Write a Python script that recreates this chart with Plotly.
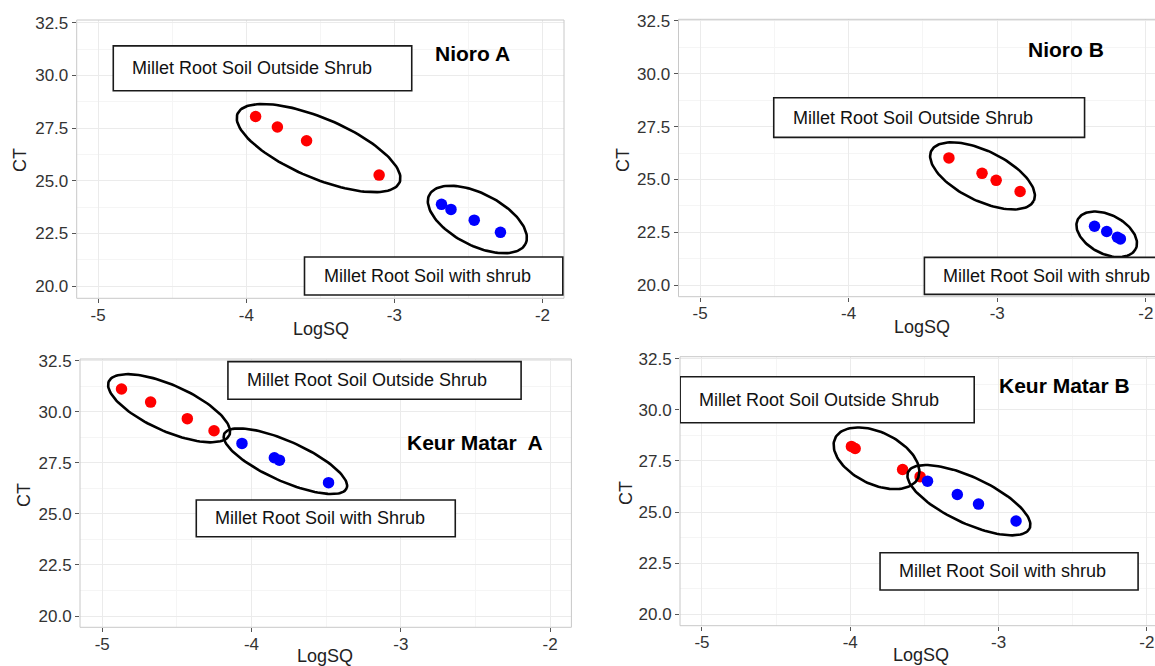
import numpy as np
import plotly.graph_objects as go

W, H = 1155, 666

# ---------------- data ----------------
panel_titles = ["Nioro A", "Nioro B", "Keur Matar\u00a0 A", "Keur Matar B"]

outside_x = [
    [-3.937, -3.790, -3.593, -3.103],
    [-3.325, -3.102, -3.007, -2.846],
    [-4.871, -4.676, -4.430, -4.251],
    [-3.992, -3.967, -3.647, -3.529],
]
outside_ct = [
    [28.05, 27.55, 26.90, 25.27],
    [26.02, 25.29, 24.96, 24.43],
    [31.11, 30.47, 29.66, 29.07],
    [28.21, 28.11, 27.08, 26.73],
]
with_x = [
    [-2.682, -2.618, -2.461, -2.284],
    [-2.345, -2.263, -2.191, -2.171],
    [-4.064, -3.847, -3.813, -3.484],
    [-3.479, -3.278, -3.135, -2.882],
]
with_ct = [
    [23.88, 23.64, 23.13, 22.55],
    [22.79, 22.54, 22.27, 22.19],
    [28.45, 27.75, 27.63, 26.53],
    [26.51, 25.86, 25.39, 24.56],
]

x_ticks = [-5, -4, -3, -2]
x_tick_labels = ["-5", "-4", "-3", "-2"]
y_ticks = [20.0, 22.5, 25.0, 27.5, 30.0, 32.5]
y_tick_labels = ["20.0", "22.5", "25.0", "27.5", "30.0", "32.5"]

outside_label = "Millet Root Soil Outside Shrub"
with_labels = ["Millet Root Soil with shrub", "Millet Root Soil with shrub",
               "Millet Root Soil with Shrub", "Millet Root Soil with shrub"]

# ---------------- layout geometry (pixels) ----------------
panels = [
    dict(px=(76.7, 564.0), py=(20.0, 298.3), xr=(-5.145, -1.855), yr=(19.42, 32.63),
         ct=(20, 160), lq=(321, 329)),
    dict(px=(678.5, 1155.0), py=(19.3, 296.7), xr=(-5.145, -1.938), yr=(19.46, 32.57),
         ct=(623, 160), lq=(922, 327)),
    dict(px=(80.0, 571.4), py=(359.0, 627.3), xr=(-5.149, -1.857), yr=(19.45, 32.58),
         ct=(24, 495), lq=(325, 656)),
    dict(px=(680.0, 1155.0), py=(356.7, 625.7), xr=(-5.148, -1.945), yr=(19.44, 32.60),
         ct=(626, 493), lq=(921, 655)),
]

# text boxes: (x0, x1, y_bottom, y_top) in data units
outside_boxes = [(-4.898, -2.883, 29.27, 31.40), (-4.504, -2.412, 26.99, 28.865),
                 (-4.158, -2.194, 30.61, 32.45), (-5.147, -3.164, 29.37, 31.62)]
with_boxes = [(-3.607, -1.863, 19.58, 21.38), (-3.49, -1.80, 19.57, 21.32),
              (-4.37, -2.635, 23.88, 25.68), (-3.799, -2.059, 21.19, 23.01)]
title_pos = [(-2.472, 31.02), (-2.539, 31.15), (-2.505, 28.48), (-2.555, 31.18)]

# ellipses: centre (data), semi-axes (px), tilt (deg, clockwise on screen)
ellipses = [
    [(-3.512, 26.55, 88, 30, 23), (-2.44, 23.16, 54, 26, 27)],
    [(-3.099, 25.17, 57, 25, 26), (-2.263, 22.41, 32.5, 19.5, 27)],
    [(-4.552, 30.17, 66, 23, 24), (-3.773, 27.58, 67, 20, 24)],
    [(-3.823, 27.63, 46, 26, 26), (-3.200, 25.58, 67, 23, 25)],
]

FAMILY = "Liberation Sans, Arial, sans-serif"
TICK_FONT = dict(family=FAMILY, size=17, color="#333333")
TEXT_FONT = dict(family=FAMILY, size=18, color="#111111")
AXIS_FONT = dict(family=FAMILY, size=18, color="#222222")

fig = go.Figure()
shapes = []
annotations = []

for i, p in enumerate(panels):
    n = "" if i == 0 else str(i + 1)
    xa, ya = "x" + n, "y" + n
    dom_x = [p["px"][0] / W, min(1.0, p["px"][1] / W)]
    dom_y = [1 - p["py"][1] / H, 1 - p["py"][0] / H]
    axis_common = dict(
        showgrid=True, gridcolor="#EBEBEB", gridwidth=1, zeroline=False, showline=False,
        ticks="outside", ticklen=4, tickwidth=1, tickcolor="#555555",
        tickfont=TICK_FONT, tickmode="array", automargin=False,
    )
    fig.layout["xaxis" + n] = dict(
        axis_common, domain=dom_x, range=list(p["xr"]), anchor=ya,
        tickvals=x_ticks, ticktext=x_tick_labels, ticklabelstandoff=-3,
        minor=dict(showgrid=True, gridcolor="#F5F5F5", gridwidth=1, tickmode="array",
                   tickvals=[-4.5, -3.5, -2.5], ticks=""),
    )
    fig.layout["yaxis" + n] = dict(
        axis_common, domain=dom_y, range=list(p["yr"]), anchor=xa,
        tickvals=y_ticks, ticktext=y_tick_labels,
        minor=dict(showgrid=True, gridcolor="#F5F5F5", gridwidth=1, tickmode="array",
                   tickvals=[21.25, 23.75, 26.25, 28.75, 31.25], ticks=""),
    )
    # panel border (paper coords)
    shapes.append(dict(type="rect", xref="paper", yref="paper",
                       x0=p["px"][0] / W, x1=p["px"][1] / W if p["px"][1] < W else 1.02,
                       y0=dom_y[0], y1=dom_y[1],
                       line=dict(color="#C8C8C8", width=1), layer="above"))

    # points
    fig.add_trace(go.Scatter(x=outside_x[i], y=outside_ct[i], mode="markers", xaxis=xa, yaxis=ya,
                             marker=dict(color="#FF0000", size=11.5), showlegend=False,
                             hoverinfo="skip"))
    fig.add_trace(go.Scatter(x=with_x[i], y=with_ct[i], mode="markers", xaxis=xa, yaxis=ya,
                             marker=dict(color="#0000FF", size=11.5), showlegend=False,
                             hoverinfo="skip"))

    # ellipses
    sx = (p["px"][1] - p["px"][0]) / (p["xr"][1] - p["xr"][0])
    sy = (p["py"][1] - p["py"][0]) / (p["yr"][1] - p["yr"][0])
    t = np.linspace(0, 2 * np.pi, 121)
    for (cx, cy, a, b, th) in ellipses[i]:
        r = np.deg2rad(th)
        dx = a * np.cos(t) * np.cos(r) - b * np.sin(t) * np.sin(r)
        dy = a * np.cos(t) * np.sin(r) + b * np.sin(t) * np.cos(r)
        fig.add_trace(go.Scatter(x=cx + dx / sx, y=cy - dy / sy, mode="lines", xaxis=xa, yaxis=ya,
                                 line=dict(color="black", width=2.6), showlegend=False,
                                 hoverinfo="skip"))

    # text boxes
    for box, label in ((outside_boxes[i], outside_label), (with_boxes[i], with_labels[i])):
        x0, x1, y0, y1 = box
        shapes.append(dict(type="rect", xref=xa, yref=ya, x0=x0, x1=x1, y0=y0, y1=y1,
                           line=dict(color="#1A1A1A", width=1.6), fillcolor="white",
                           layer="above"))
        annotations.append(dict(xref=xa, yref=ya, x=x0, y=(y0 + y1) / 2, text=label,
                                showarrow=False, xanchor="left", yanchor="middle", xshift=17,
                                font=TEXT_FONT))

    # panel title
    annotations.append(dict(xref=xa, yref=ya, x=title_pos[i][0], y=title_pos[i][1],
                            text="<b>" + panel_titles[i] + "</b>", showarrow=False,
                            xanchor="center", yanchor="middle",
                            font=dict(family=FAMILY, size=21, color="black")))

    # axis titles
    annotations.append(dict(xref="paper", yref="paper", x=p["ct"][0] / W, y=1 - p["ct"][1] / H,
                            text="CT", textangle=-90, showarrow=False, xanchor="center",
                            yanchor="middle", font=AXIS_FONT))
    annotations.append(dict(xref="paper", yref="paper", x=p["lq"][0] / W, y=1 - p["lq"][1] / H,
                            text="LogSQ", showarrow=False, xanchor="center", yanchor="middle",
                            font=AXIS_FONT))

fig.update_layout(
    width=W, height=H, margin=dict(l=0, r=0, t=0, b=0, pad=0, autoexpand=False),
    paper_bgcolor="white", plot_bgcolor="white",
    shapes=shapes, annotations=annotations, showlegend=False,
)

fig.write_html(
    "out.html",
    config={"displayModeBar": False},
    post_script="document.body.style.margin='0';document.body.style.overflow='hidden';",
)
